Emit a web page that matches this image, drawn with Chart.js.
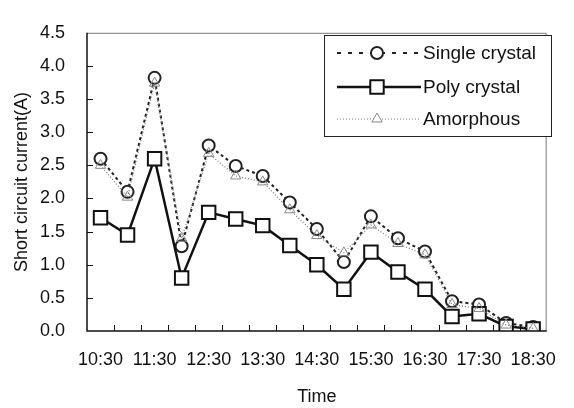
<!DOCTYPE html>
<html>
<head>
<meta charset="utf-8">
<script src="https://cdn.jsdelivr.net/npm/chart.js@4"></script>
<style>
  html, body { margin: 0; padding: 0; background: #fff; }
  #wrap { width: 574px; height: 408px; }
</style>
</head>
<body>
<div id="wrap"><canvas id="chart"></canvas></div>
<script>
const timeLabels = ["10:30", "11:00", "11:30", "12:00", "12:30", "13:00", "13:30", "14:00", "14:30",
                    "15:00", "15:30", "16:00", "16:30", "17:00", "17:30", "18:00", "18:30"];
const singleCrystal = [2.60, 2.10, 3.82, 1.28, 2.80, 2.49, 2.34, 1.94, 1.54, 1.04, 1.73, 1.40, 1.20, 0.45, 0.40, 0.12, 0.06];
const polyCrystal   = [1.71, 1.45, 2.60, 0.80, 1.79, 1.69, 1.59, 1.29, 1.00, 0.63, 1.19, 0.89, 0.63, 0.22, 0.26, 0.07, 0.03];
const amorphous     = [2.50, 2.02, 3.74, 1.40, 2.68, 2.34, 2.25, 1.83, 1.44, 1.18, 1.60, 1.32, 1.15, 0.40, 0.34, 0.09, 0.04];
const yTicks = [0, 0.5, 1, 1.5, 2, 2.5, 3, 3.5, 4, 4.5];
const yTitle = "Short circuit current(A)";

const FONT = "'Liberation Sans', Arial, sans-serif";

// frame with inward tick marks, plus the y title (sits a bit below centre in the original)
const frameTicks = {
    id: "frameTicks",
    afterDraw(chart) {
        const ctx = chart.ctx;
        const a = chart.chartArea;
        const x = chart.scales.x, y = chart.scales.y;
        ctx.save();
        ctx.strokeStyle = "#777";
        ctx.lineWidth = 1;
        ctx.beginPath();
        ctx.moveTo(a.left, a.top + 0.5);
        ctx.lineTo(a.right - 0.5, a.top + 0.5);
        ctx.lineTo(a.right - 0.5, a.bottom);
        ctx.stroke();
        ctx.strokeStyle = "#111";
        ctx.lineWidth = 1.5;
        ctx.beginPath();
        ctx.moveTo(a.left, a.top);
        ctx.lineTo(a.left, a.bottom);
        ctx.lineTo(a.right, a.bottom);
        ctx.stroke();
        ctx.lineWidth = 1;
        ctx.beginPath();
        yTicks.forEach(function (v) {
            if (v <= 0 || v >= 4.5) return;
            const py = Math.round(y.getPixelForValue(v)) + 0.5;
            ctx.moveTo(a.left, py);
            ctx.lineTo(a.left + 6, py);
        });
        for (let i = 1; i < timeLabels.length; i++) {
            const px = Math.round((x.getPixelForValue(i - 1) + x.getPixelForValue(i)) / 2) + 0.5;
            ctx.moveTo(px, a.bottom);
            ctx.lineTo(px, a.bottom - 6);
        }
        ctx.stroke();

        ctx.translate(22, 182);
        ctx.rotate(-Math.PI / 2);
        ctx.fillStyle = "#111";
        ctx.font = "18px " + FONT;
        ctx.textAlign = "center";
        ctx.textBaseline = "middle";
        ctx.fillText(yTitle, 0, 0);
        ctx.restore();
    }
};

// boxed legend with line sample + marker
const boxLegend = {
    id: "boxLegend",
    afterDraw(chart) {
        const ctx = chart.ctx;
        const rows = [53, 87, 119];
        ctx.save();
        ctx.fillStyle = "#fff";
        ctx.fillRect(324, 35, 228, 101);
        ctx.strokeStyle = "#222";
        ctx.lineWidth = 1;
        ctx.strokeRect(324.5, 35.5, 227, 101);
        chart.data.datasets.forEach(function (ds, i) {
            const cy = rows[i];
            ctx.save();
            ctx.strokeStyle = ds.borderColor;
            ctx.lineWidth = ds.borderWidth;
            ctx.setLineDash(ds.legendDash || ds.borderDash || []);
            ctx.beginPath();
            ctx.moveTo(337, cy);
            ctx.lineTo(421, cy);
            ctx.stroke();
            ctx.setLineDash([]);
            ctx.fillStyle = "#fff";
            ctx.strokeStyle = ds.pointBorderColor;
            ctx.lineWidth = ds.pointBorderWidth;
            Chart.helpers.drawPoint(ctx, {
                pointStyle: ds.pointStyle,
                radius: ds.pointRadius,
                rotation: 0,
                borderWidth: ds.pointBorderWidth
            }, 377, cy);
            ctx.restore();
            ctx.fillStyle = "#111";
            ctx.font = "19px " + FONT;
            ctx.textBaseline = "middle";
            ctx.textAlign = "left";
            ctx.fillText(ds.label, 423, cy + 1);
        });
        ctx.restore();
    }
};

new Chart(document.getElementById("chart"), {
    type: "line",
    data: {
        labels: timeLabels,
        datasets: [
            {
                label: "Single crystal",
                data: singleCrystal,
                order: 3,
                borderColor: "#222",
                borderWidth: 2,
                borderDash: [3, 3],
                legendDash: [4, 7],
                pointStyle: "circle",
                pointRadius: 6,
                pointBorderWidth: 2,
                pointBorderColor: "#222",
                pointBackgroundColor: "#fff",
                tension: 0
            },
            {
                label: "Poly crystal",
                data: polyCrystal,
                order: 2,
                borderColor: "#111",
                borderWidth: 2.5,
                pointStyle: "rect",
                pointRadius: 9.5,
                pointBorderWidth: 2,
                pointBorderColor: "#111",
                pointBackgroundColor: "#fff",
                tension: 0
            },
            {
                label: "Amorphous",
                data: amorphous,
                order: 1,
                borderColor: "#777",
                borderWidth: 1.2,
                borderDash: [1, 2],
                pointStyle: "triangle",
                pointRadius: 6,
                pointBorderWidth: 1,
                pointBorderColor: "#888",
                pointBackgroundColor: "rgba(255,255,255,0)",
                tension: 0
            }
        ]
    },
    options: {
        responsive: true,
        maintainAspectRatio: false,
        animation: false,
        events: [],
        layout: { padding: { top: 16, right: 11, left: 0, bottom: 0 } },
        plugins: {
            legend: { display: false },
            tooltip: { enabled: false }
        },
        scales: {
            x: {
                type: "category",
                offset: true,
                grid: { display: false, drawTicks: false },
                border: { display: false },
                ticks: {
                    autoSkip: false,
                    maxRotation: 0,
                    padding: 18,
                    color: "#111",
                    font: { family: FONT, size: 18 },
                    callback: function (v, i) { return i % 2 === 0 ? timeLabels[i] : ""; }
                },
                title: {
                    display: true,
                    text: "Time",
                    color: "#111",
                    font: { family: FONT, size: 18 },
                    padding: { top: 0, bottom: 0 }
                },
                afterFit: function (scale) { scale.height = 77; }
            },
            y: {
                min: 0,
                max: 4.5,
                grid: { display: false, drawTicks: false },
                border: { display: false },
                afterBuildTicks: function (scale) {
                    scale.ticks = yTicks.map(function (v) { return { value: v }; });
                },
                ticks: {
                    padding: 22,
                    color: "#111",
                    font: { family: FONT, size: 18 },
                    callback: function (v) { return Number(v).toFixed(1); }
                },
                title: { display: false },
                afterFit: function (scale) { scale.width = 87; }
            }
        }
    },
    plugins: [frameTicks, boxLegend]
});
</script>
</body>
</html>
